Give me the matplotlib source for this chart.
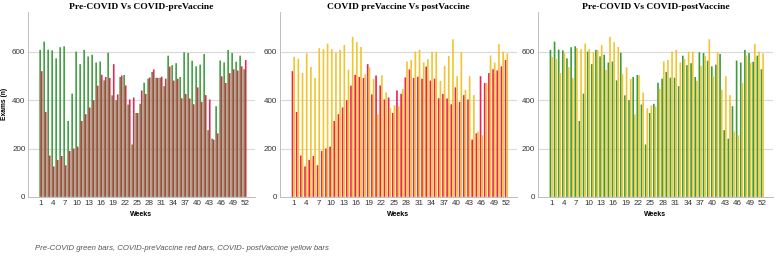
import numpy as np
import matplotlib
matplotlib.use("Agg")
import matplotlib.pyplot as plt

weeks = list(range(1, 53))

pre_covid = [608, 642, 609, 606, 573, 619, 623, 314, 427, 601,
             549, 608, 581, 588, 556, 560, 482, 596, 420, 400,
             496, 504, 382, 217, 347, 385, 472, 489, 517, 493,
             493, 458, 584, 545, 553, 496, 598, 595, 563, 540,
             547, 591, 276, 241, 375, 564, 556, 608, 595, 559,
             584, 528]

covid_pre_vaccine = [520, 351, 171, 126, 153, 169, 131, 190, 200, 208,
                     314, 342, 370, 400, 460, 505, 496, 492, 549, 424,
                     502, 461, 403, 411, 347, 440, 426, 494, 527, 492,
                     497, 489, 539, 481, 489, 408, 426, 407, 383, 453,
                     393, 421, 403, 237, 263, 499, 471, 512, 528, 523,
                     540, 566]

covid_post_vaccine = [579, 571, 512, 594, 537, 492, 615, 611, 634, 611,
                      598, 608, 628, 526, 662, 640, 620, 507, 536, 488,
                      341, 503, 432, 367, 379, 374, 447, 560, 566, 601,
                      608, 556, 570, 600, 600, 480, 542, 583, 652, 499,
                      598, 443, 499, 421, 270, 255, 471, 585, 555, 632,
                      601, 594]

GREEN = "#3c9c3c"
RED = "#ea2350"
YELLOW = "#f2c530"

panels = [
    ("Pre-COVID Vs COVID-preVaccine", pre_covid, GREEN, covid_pre_vaccine, RED),
    ("COVID preVaccine Vs postVaccine", covid_pre_vaccine, RED, covid_post_vaccine, YELLOW),
    ("Pre-COVID Vs COVID-postVaccine", pre_covid, GREEN, covid_post_vaccine, YELLOW),
]

fig = plt.figure(figsize=(7.82, 2.65), dpi=100)
lefts = [0.036, 0.358, 0.688]
widths = [0.290, 0.303, 0.300]

x = np.array(weeks)
w = 0.4
for (title, a, ca, b, cb), left, width in zip(panels, lefts, widths):
    ax = fig.add_axes([left, 0.257, width, 0.698])
    bars1 = ax.bar(x - w / 2, a, width=w, color=ca, linewidth=0, zorder=3)
    bars2 = ax.bar(x + w / 2, b, width=w, color=cb, linewidth=0, zorder=3)
    for p in list(bars1) + list(bars2):
        p.set_snap(False)
    ax.set_xlim(-2.2, 54.5)
    ax.set_ylim(0, 765)
    ax.set_yticks([0, 200, 400, 600])
    ax.set_xticks(weeks[::3])
    ax.tick_params(length=0, labelsize=5.8, pad=2, colors="#333333")
    for lab in ax.get_xticklabels() + ax.get_yticklabels():
        lab.set_family("Liberation Sans")
    for y in [200, 400, 600]:
        ax.axhline(y, color="#d9d9d9", linewidth=0.8, zorder=1)
    for s in ["top", "right"]:
        ax.spines[s].set_visible(False)
    ax.spines["left"].set_color("#bdbdbd")
    ax.spines["bottom"].set_color("#bdbdbd")
    ax.spines["left"].set_linewidth(0.7)
    ax.spines["bottom"].set_linewidth(0.7)
    ax.set_title(title, fontsize=6.8, fontweight="bold", family="Liberation Serif", pad=2)
    ax.set_xlabel("Weeks", fontsize=5, fontweight="bold", family="Liberation Sans", labelpad=3)
    if left == lefts[0]:
        ax.set_ylabel("Exams (n)", fontsize=4.8, fontweight="bold", family="Liberation Sans", labelpad=3)

fig.text(0.045, 0.058, "Pre-COVID green bars, COVID-preVaccine red bars, COVID- postVaccine yellow bars",
         fontsize=5.6, style="italic", color="#555555", family="Liberation Sans")

fig.savefig("out.png", dpi=100)
